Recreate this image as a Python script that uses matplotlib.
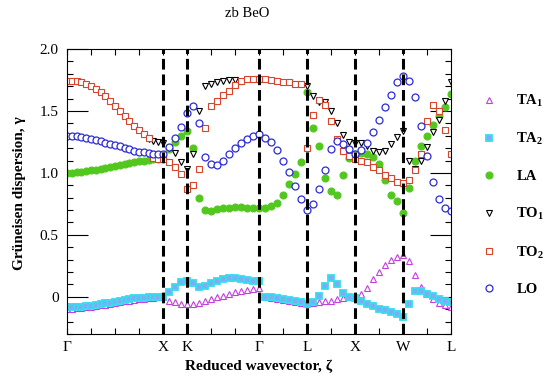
import numpy as np
import matplotlib
matplotlib.use("Agg")
import matplotlib.pyplot as plt

plt.rcParams['font.family'] = ['Liberation Serif', 'DejaVu Serif']
plt.rcParams['mathtext.fontset'] = 'custom'
plt.rcParams['mathtext.rm'] = 'Liberation Serif'
plt.rcParams['mathtext.bf'] = 'Liberation Serif:bold'
plt.rcParams['mathtext.it'] = 'Liberation Serif:italic'

nan = np.nan

# k-path sampling: 0.2 steps along G-X, 0.25 steps afterwards
zeta = np.concatenate([np.linspace(0, 4, 21), np.linspace(4.25, 16, 48)])

sym_pos = [0, 4, 5, 8, 10, 12, 14, 16]
sym_labels = ['Γ', 'X', 'K', 'Γ', 'L', 'X', 'W', 'L']

ta1 = [-0.095, -0.095, -0.093, -0.090, -0.086, -0.082, -0.077, -0.070, -0.064, -0.057,
       -0.050, -0.043, -0.036, -0.030, -0.025, -0.020, -0.016, -0.012, -0.008, -0.005, -0.003,
       -0.030, -0.045, -0.055, -0.060, -0.060, -0.050, -0.035, -0.020, -0.005, 0.010, 0.025, 0.035,
       0.045, 0.055, 0.065, 0.070,
       -0.005, -0.012, -0.018, -0.025, -0.032, -0.040, -0.050, -0.058, -0.050, -0.042, -0.036, -0.030,
       -0.020, -0.010, -0.003, 0.000,
       0.025, 0.070, 0.145, 0.200, 0.255, 0.300, 0.325, 0.340, 0.290, 0.180, 0.080, 0.020,
       -0.020, -0.050, -0.070, -0.085]

ta2 = [-0.085, -0.085, -0.082, -0.080, -0.076, -0.072, -0.067, -0.060, -0.053, -0.046,
       -0.038, -0.030, -0.024, -0.018, -0.013, -0.010, -0.007, -0.005, -0.003, -0.001, 0.000,
       0.040, 0.080, 0.120, 0.130, 0.110, 0.080, 0.090, 0.110, 0.130, 0.145, 0.150, 0.150,
       0.145, 0.135, 0.130, 0.125,
       0.000, -0.005, -0.012, -0.020, -0.027, -0.035, -0.045, -0.055, -0.040, 0.010, 0.090, 0.150,
       0.100, 0.030, 0.000, -0.010,
       -0.030, -0.055, -0.075, -0.095, -0.110, -0.125, -0.140, -0.165, -0.060, 0.045, 0.045, 0.025,
       0.005, -0.015, -0.030, -0.045]

la = [1.000, 1.000, 1.005, 1.010, 1.015, 1.020, 1.025, 1.030, 1.040, 1.045,
      1.055, 1.060, 1.070, 1.080, 1.090, 1.095, 1.100, 1.105, 1.110, 1.110, 1.110,
      1.190, 1.250, 1.300, 1.335, 1.200, 0.800, 0.700, 0.695, 0.705, 0.715, 0.720, 0.725,
      0.725, 0.720, 0.720, 0.715,
      0.720, 0.730, 0.760, 0.825, 0.910, 0.990, 1.090, 1.650, 1.360, 1.220, 0.960, 0.850,
      0.820, 0.980, 1.120, 1.150,
      1.160, 1.150, 1.126, 1.070, 0.940, 0.820, 0.770, 0.680, 0.880, 1.100, 1.220, 1.300,
      1.390, 1.460, 1.535, 1.640]

to1 = [nan, nan, nan, nan, nan, nan, nan, nan, nan, nan,
       nan, nan, nan, nan, nan, nan, nan, 1.270, 1.260, 1.250, 1.245,
       1.200, 1.160, 1.090, 1.030, 1.150, 1.500, 1.700, 1.720, 1.735, 1.745, 1.750, 1.750,
       nan, nan, nan, nan,
       nan, nan, nan, nan, nan, nan, nan, 1.700, 1.620, 1.570, 1.575, 1.500,
       1.400, 1.305, 1.250, 1.245,
       1.245, 1.220, 1.180, 1.165, 1.180, 1.230, 1.290, 1.340, 1.100, 1.030, 1.100, 1.210,
       1.330, 1.430, 1.580, 1.730]

to2 = [1.745, 1.745, 1.740, 1.730, 1.720, 1.700, 1.680, 1.650, 1.620, 1.580,
       1.540, 1.500, 1.460, 1.420, 1.380, 1.350, 1.310, 1.280, 1.120, 1.110, 1.110,
       1.090, 1.050, 0.990, 0.870, 0.900, 1.030, 1.360, 1.540, 1.580, 1.625, 1.665, 1.710,
       1.745, 1.758, 1.758, 1.758,
       1.755, 1.750, 1.740, 1.735, 1.730, 1.720, 1.718, 1.200, 1.470, 1.590, 1.550, 1.420,
       1.270, 1.180, 1.140, 1.110,
       1.100, 1.085, 1.050, 1.020, 0.985, 0.955, 0.930, 0.920, 0.940, 1.020, 1.150, 1.420,
       1.550, 1.500, 1.350, 1.150]

lo = [1.300, 1.300, 1.295, 1.290, 1.280, 1.275, 1.265, 1.255, 1.245, 1.235,
      1.225, 1.215, 1.200, 1.190, 1.180, 1.170, 1.165, 1.160, 1.155, 1.150, 1.150,
      1.210, 1.280, 1.370, 1.480, 1.540, 1.400, 1.130, 1.070, 1.060, 1.100, 1.150, 1.200,
      1.240, 1.275, 1.300, 1.310,
      1.285, 1.250, 1.185, 1.100, 1.005, 0.895, 0.790, 0.700, 0.750, 0.870, 1.020, 1.190,
      1.260, 1.230, 1.190, 1.155,
      1.185, 1.245, 1.330, 1.430, 1.530, 1.625, 1.730, 1.785, 1.740, 1.610, 1.380, 1.140,
      0.930, 0.790, 0.720, 0.695]

branches = [
    (r'TA$_\mathbf{1}$', ta1, dict(marker='^', ms=4.2, mfc='white', mec='#c23fe0', mew=0.8)),
    (r'TA$_\mathbf{2}$', ta2, dict(marker='s', ms=5, mfc='#82aaf2', mec='#36dcef', mew=1.3)),
    ('LA', la, dict(marker='o', ms=5, mfc='#52c81e', mec='#52c81e', mew=0.8)),
    (r'TO$_\mathbf{1}$', to1, dict(marker='v', ms=5, mfc='white', mec='black', mew=0.8)),
    (r'TO$_\mathbf{2}$', to2, dict(marker='s', ms=5, mfc='white', mec='#d8442c', mew=0.8)),
    ('LO', lo, dict(marker='o', ms=5, mfc='white', mec='#2b2bd8', mew=0.9)),
]

fig = plt.figure(figsize=(5.5, 3.78), dpi=100)
ax = fig.add_axes([0.1218, 0.1164, 0.6982, 0.754])

for name, vals, style in branches:
    ax.plot(zeta, vals, ls='none', label=name, **style)

for p in sym_pos[1:-1]:
    ax.axvline(p, color='black', lw=2.2, ls=(0, (3.5, 1.6)), zorder=5)

ax.set_xlim(0, 16)
ax.set_ylim(-0.3, 2.0)
ax.set_xticks(sym_pos)
ax.set_xticklabels(sym_labels)
ax.set_xticks(range(17), minor=True)
ax.set_yticks([0, 0.5, 1.0, 1.5, 2.0])
ax.set_yticklabels(['0', '0.5', '1.0', '1.5', '2.0'])
ax.set_yticks(np.arange(-0.3, 2.0, 0.1), minor=True)
ax.tick_params(axis='x', which='both', direction='in', top=True, length=4, width=0.8,
               labelsize=11, pad=5)
ax.tick_params(axis='y', which='major', direction='in', right=True, length=15, width=0.8,
               labelsize=11, pad=6)
ax.tick_params(axis='y', which='minor', direction='in', right=True, length=4.5, width=0.8)
for s in ax.spines.values():
    s.set_linewidth(0.8)

fig.text(0.45, 0.963, 'zb BeO', ha='center', va='center', fontsize=10.5)
fig.text(0.036, 0.49, 'Grüneisen dispersion, γ', rotation=90, ha='center', va='center',
         fontsize=11, fontweight='bold')
fig.text(0.47, 0.032, 'Reduced wavevector, ζ', ha='center', va='center',
         fontsize=11, fontweight='bold')

ax.legend(loc='upper left', bbox_to_anchor=(0.875, 0.755), bbox_transform=fig.transFigure,
          frameon=False, handlelength=1.0, handletextpad=1.4, labelspacing=1.55,
          borderpad=0, borderaxespad=0, prop={'weight': 'bold', 'size': 10.5})

fig.savefig('out.png', dpi=100)
